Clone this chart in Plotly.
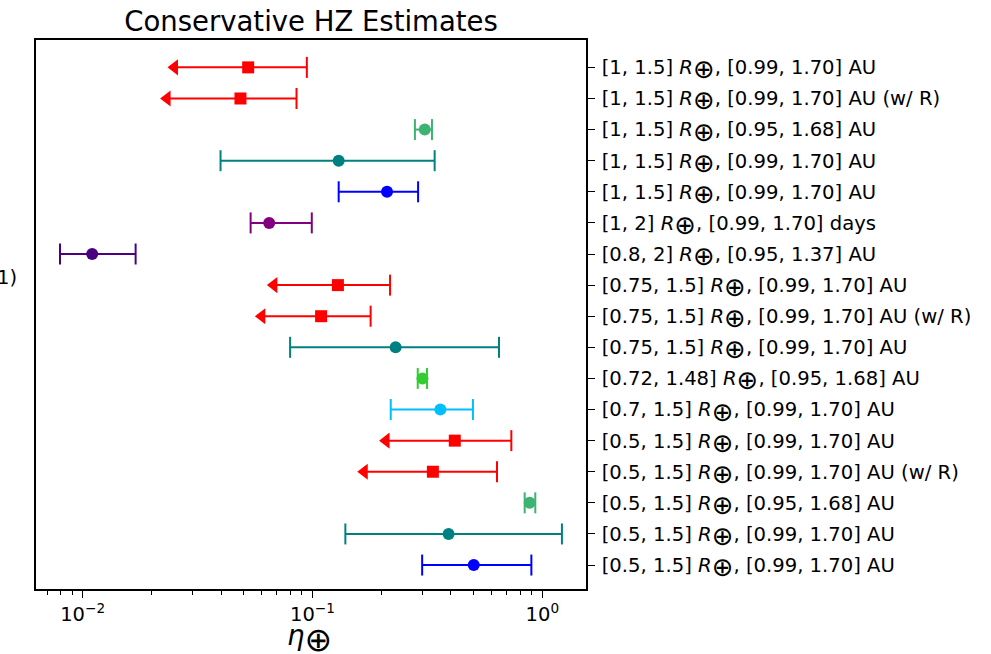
import plotly.graph_objects as go

# Planet-radius bin and habitable-zone bin for each estimate (top to bottom)
radius_bins = ["[1, 1.5]", "[1, 1.5]", "[1, 1.5]", "[1, 1.5]", "[1, 1.5]", "[1, 2]",
               "[0.8, 2]", "[0.75, 1.5]", "[0.75, 1.5]", "[0.75, 1.5]", "[0.72, 1.48]",
               "[0.7, 1.5]", "[0.5, 1.5]", "[0.5, 1.5]", "[0.5, 1.5]", "[0.5, 1.5]", "[0.5, 1.5]"]
hz_bins = ["[0.99, 1.70] AU", "[0.99, 1.70] AU (w/ R)", "[0.95, 1.68] AU", "[0.99, 1.70] AU",
           "[0.99, 1.70] AU", "[0.99, 1.70] days", "[0.95, 1.37] AU", "[0.99, 1.70] AU",
           "[0.99, 1.70] AU (w/ R)", "[0.99, 1.70] AU", "[0.95, 1.68] AU", "[0.99, 1.70] AU",
           "[0.99, 1.70] AU", "[0.99, 1.70] AU (w/ R)", "[0.95, 1.68] AU", "[0.99, 1.70] AU",
           "[0.99, 1.70] AU"]

# eta-Earth estimates with lower / upper bounds
eta_value = [0.0525, 0.0486, 0.308, 0.130, 0.211, 0.0648, 0.0110, 0.129, 0.109, 0.230,
             0.301, 0.360, 0.416, 0.334, 0.881, 0.391, 0.503]
eta_low = [0.0251, 0.0233, 0.279, 0.0398, 0.130, 0.0538, 0.00797, 0.0679, 0.0602, 0.0799,
           0.287, 0.219, 0.209, 0.168, 0.838, 0.139, 0.300]
eta_high = [0.0945, 0.0852, 0.331, 0.340, 0.288, 0.0993, 0.0170, 0.2175, 0.179, 0.648,
            0.315, 0.499, 0.733, 0.635, 0.932, 1.217, 0.896]
# rows whose lower side is an open bound (drawn with an arrow)
open_lower = [True, True, False, False, False, False, False, True, True, False,
              False, False, True, True, False, False, False]
colors = ["red", "red", "mediumseagreen", "teal", "blue", "purple", "indigo", "red", "red",
          "teal", "limegreen", "deepskyblue", "red", "red", "mediumseagreen", "teal", "blue"]

FONT = "DejaVu Sans"
rows = list(range(len(eta_value)))
tick_text = [f"{r} <i>R</i><sub><span style='font-size:26px'>⊕</span></sub>, {h}"
             for r, h in zip(radius_bins, hz_bins)]

fig = go.Figure()
for i in rows:
    c = colors[i]
    lo, hi, v = eta_low[i], eta_high[i], eta_value[i]
    # error bar line
    fig.add_trace(go.Scatter(x=[lo, hi], y=[i, i], mode="lines",
                             line=dict(color=c, width=2), hoverinfo="skip"))
    # caps
    cap_x = [hi] if open_lower[i] else [lo, hi]
    fig.add_trace(go.Scatter(x=cap_x, y=[i] * len(cap_x), mode="markers",
                             marker=dict(symbol="line-ns", size=15,
                                         line=dict(color=c, width=2)),
                             hoverinfo="skip"))
    if open_lower[i]:
        fig.add_trace(go.Scatter(x=[lo], y=[i], mode="markers",
                                 marker=dict(symbol="triangle-left", size=14, color=c,
                                             line=dict(width=0)),
                                 hoverinfo="skip"))
    fig.add_trace(go.Scatter(x=[v], y=[i], mode="markers",
                             marker=dict(symbol="square" if open_lower[i] else "circle",
                                         size=12, color=c, line=dict(width=0))))

fig.add_annotation(text="1)", xref="paper", yref="paper", x=-0.0310, y=0.5665,
                   xanchor="right", yanchor="middle", showarrow=False,
                   font=dict(family=FONT, size=19.5, color="black"))

# x-axis label
fig.add_annotation(text="<i>η</i><sub><span style='font-size:33px'>⊕</span></sub>",
                   xref="paper", yref="paper", x=0.497, y=-0.0905,
                   xanchor="center", yanchor="middle", showarrow=False,
                   font=dict(family=FONT, size=27.5, color="black"))

minor_vals = [k * 10.0 ** e for e in (-3, -2, -1, 0) for k in range(2, 10)]

fig.update_layout(
    width=991, height=654,
    margin=dict(l=36, r=405, t=40, b=65),
    paper_bgcolor="white", plot_bgcolor="white",
    showlegend=False,
    font=dict(family=FONT, color="black"),
    title=dict(text="Conservative HZ Estimates", x=0.5, xref="paper",
               y=1 - 21 / 654, yref="container", xanchor="center", yanchor="middle",
               font=dict(family=FONT, size=27.5, color="black")),
    xaxis=dict(type="log", range=[-2.203, 0.190], automargin=False,
               tickvals=[0.01, 0.1, 1], ticktext=["10<sup>−2</sup>", "10<sup>−1</sup>", "10<sup>0</sup>"],
               ticks="outside", ticklen=7, tickwidth=1.4, tickcolor="black",
               minor=dict(tickvals=minor_vals, ticks="outside", ticklen=4,
                          tickwidth=1.1, tickcolor="black"),
               tickfont=dict(family=FONT, size=19.5),
               showgrid=False, zeroline=False,
               showline=True, linecolor="black", linewidth=1.6, mirror=True),
    yaxis=dict(side="right", range=[16.77, -0.88], automargin=False,
               tickvals=rows, ticktext=tick_text,
               ticks="outside", ticklen=7, tickwidth=1.4, tickcolor="black",
               tickfont=dict(family=FONT, size=19.6), ticklabelstandoff=3,
               showgrid=False, zeroline=False,
               showline=True, linecolor="black", linewidth=1.6, mirror=True),
)

fig.write_html("out.html")
